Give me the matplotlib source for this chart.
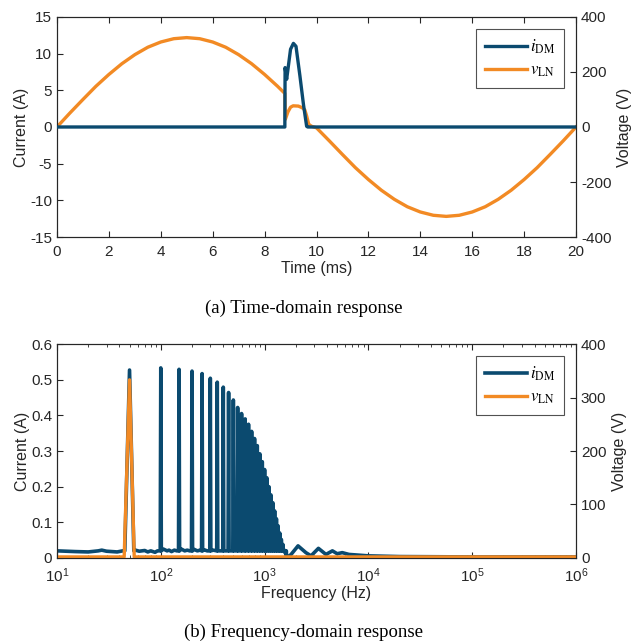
import numpy as np
import matplotlib.pyplot as plt
from matplotlib.ticker import LogLocator, NullFormatter

BLUE = "#0b4a6f"
ORANGE = "#f28a24"
AXC = "#262626"

# time-domain response
t_cur = [0.0, 8.78, 8.79, 8.85, 9.0, 9.11, 9.21, 9.36, 9.5, 9.62, 9.66, 20.0]
i_dm = [0.0, 0.0, 8.1, 6.5, 10.6, 11.4, 11.0, 7.0, 3.0, 0.1, 0.0, 0.0]

t_volt = [0.0, 0.5, 1.0, 1.5, 2.0, 2.5, 3.0, 3.5, 4.0, 4.5, 5.0, 5.5, 6.0, 6.5, 7.0,
          7.5, 8.0, 8.5, 8.78, 8.80, 8.9, 9.0, 9.1, 9.3, 9.45, 9.55, 9.62, 9.7, 9.8,
          10.0, 10.5, 11.0, 11.5, 12.0, 12.5, 13.0, 13.5, 14.0, 14.5, 15.0, 15.5,
          16.0, 16.5, 17.0, 17.5, 18.0, 18.5, 19.0, 19.5, 20.0]
v_ln = [0, 51, 100, 148, 191, 230, 263, 290, 309, 321, 325, 321, 309, 290, 263,
        230, 191, 148, 122, 28, 55, 72, 77, 76, 70, 62, 40, 10, 3,
        -3, -51, -100, -148, -191, -230, -263, -290, -309, -321, -325, -321,
        -309, -290, -263, -230, -191, -148, -100, -51, 0]

# frequency-domain response
harm_f = [50, 100, 150, 200, 250, 300, 350, 400, 450, 500, 550, 600, 650, 700,
          750, 800, 850, 900, 950, 1000, 1050, 1100, 1150, 1200, 1250, 1300,
          1350, 1400, 1450, 1500, 1550, 1600]
harm_a = [0.527, 0.533, 0.529, 0.524, 0.517, 0.504, 0.493, 0.479, 0.464, 0.443,
          0.422, 0.405, 0.39, 0.375, 0.355, 0.335, 0.315, 0.292, 0.27, 0.248,
          0.225, 0.2, 0.177, 0.155, 0.132, 0.11, 0.09, 0.07, 0.052, 0.038,
          0.022, 0.01]

floor_f = [10, 15, 20, 25, 27, 30, 38, 43, 57, 62, 70, 75, 80, 88, 93, 106, 115,
           120, 127, 135, 143, 158, 170, 180, 190, 210, 225, 240, 262, 280, 320,
           375, 425, 475, 525, 575, 625, 675, 725, 775, 825, 875, 925, 975, 1025,
           1075, 1125, 1175, 1225, 1275, 1325, 1375, 1425, 1475, 1525, 1575, 1625,
           1700, 1800, 2100, 2500, 2800, 3300, 3900, 4500, 5000, 5600, 6500, 8000,
           10000, 20000, 100000, 1000000]
floor_a = [0.02, 0.018, 0.017, 0.02, 0.022, 0.019, 0.017, 0.02, 0.022, 0.019,
           0.021, 0.017, 0.02, 0.016, 0.02, 0.025, 0.02, 0.022, 0.018, 0.022, 0.02,
           0.025, 0.02, 0.022, 0.02, 0.024, 0.02, 0.022, 0.023, 0.02, 0.022,
           0.02, 0.02, 0.02, 0.02, 0.02, 0.02, 0.02, 0.02, 0.02, 0.02, 0.02,
           0.02, 0.02, 0.02, 0.02, 0.02, 0.02, 0.02, 0.02, 0.02, 0.02, 0.02, 0.02,
           0.02, 0.015, 0.008, 0.004, 0.01, 0.034, 0.015, 0.006, 0.027, 0.01,
           0.02, 0.012, 0.015, 0.01, 0.008, 0.006, 0.004, 0.003, 0.003]

v_spec_f = [10, 44.4, 50, 55.5, 1000000]
v_spec = [2, 2, 333, 2, 2]


def spectrum_points():
    # each harmonic drawn as a narrow spike over the noise floor
    pts = list(zip(floor_f, floor_a))
    for f, a in zip(harm_f, harm_a):
        w = 5.0 if f == 50 else 0.012 * f
        pts += [(f - w, 0.02), (f, a), (f + w, 0.02)]
    pts.sort()
    return [p[0] for p in pts], [p[1] for p in pts]


def style_axes(ax, axr):
    for a in (ax, axr):
        for s in a.spines.values():
            s.set_color(AXC)
            s.set_linewidth(0.8)
    ax.tick_params(axis="both", which="both", direction="in", colors=AXC,
                   labelsize=11, top=True, right=False, length=4)
    ax.tick_params(axis="x", pad=6)
    ax.tick_params(which="minor", length=2)
    axr.tick_params(axis="y", direction="in", colors=AXC, labelsize=11, length=4)
    ax.yaxis.label.set_color(AXC)
    ax.xaxis.label.set_color(AXC)
    axr.yaxis.label.set_color(AXC)


def add_legend(ax, handles):
    leg = ax.legend(handles, [r"$i_{\rm DM}$", r"$v_{\rm LN}$"], loc="upper right",
                    fontsize=12, frameon=True, fancybox=False, handlelength=2.5,
                    borderaxespad=0.7, handletextpad=0.2, labelspacing=0.4,
                    borderpad=0.55)
    leg.get_frame().set_edgecolor(AXC)
    leg.get_frame().set_linewidth(0.8)


plt.rcParams["font.family"] = ["Liberation Sans", "DejaVu Sans"]
plt.rcParams["mathtext.fontset"] = "stix"
plt.rcParams["axes.unicode_minus"] = False

fig = plt.figure(figsize=(6.33, 6.43), dpi=100)

# (a) time domain
ax1 = fig.add_axes([0.090, 0.6314, 0.820, 0.3422])
ax1r = ax1.twinx()
l1, = ax1.plot(t_cur, i_dm, color=BLUE, lw=2.4, zorder=3)
l2, = ax1r.plot(t_volt, v_ln, color=ORANGE, lw=2.4)
ax1.set_zorder(ax1r.get_zorder() + 1)
ax1.patch.set_visible(False)
ax1.set_xlim(0, 20)
ax1.set_ylim(-15, 15)
ax1r.set_ylim(-400, 400)
ax1.set_xticks(np.arange(0, 21, 2))
ax1.set_yticks(np.arange(-15, 16, 5))
ax1r.set_yticks(np.arange(-400, 401, 200))
ax1.set_xlabel("Time (ms)", fontsize=11.5, labelpad=1)
ax1.set_ylabel("Current (A)", fontsize=11.5, labelpad=1)
ax1r.set_ylabel("Voltage (V)", fontsize=11.5, labelpad=4)
style_axes(ax1, ax1r)
add_legend(ax1, [l1, l2])

# (b) frequency domain
ax2 = fig.add_axes([0.090, 0.1322, 0.820, 0.3328])
ax2r = ax2.twinx()
sf, sa = spectrum_points()
b1, = ax2.plot(sf, sa, color=BLUE, lw=2.6)
b2, = ax2r.plot(v_spec_f, v_spec, color=ORANGE, lw=2.4)
ax2.set_xscale("log")
ax2.set_xlim(10, 1e6)
ax2.set_ylim(0, 0.6)
ax2r.set_ylim(0, 400)
ax2.set_yticks(np.arange(0, 0.61, 0.1))
ax2.set_yticklabels(["0", "0.1", "0.2", "0.3", "0.4", "0.5", "0.6"])
ax2r.set_yticks(np.arange(0, 401, 100))
ax2.xaxis.set_major_locator(LogLocator(base=10, numticks=10))
ax2.xaxis.set_minor_locator(LogLocator(base=10, subs=np.arange(2, 10), numticks=100))
ax2.xaxis.set_minor_formatter(NullFormatter())
ax2.set_xlabel("Frequency (Hz)", fontsize=11.5, labelpad=1)
ax2.set_ylabel("Current (A)", fontsize=11.5, labelpad=1)
ax2r.set_ylabel("Voltage (V)", fontsize=11.5, labelpad=4)
style_axes(ax2, ax2r)
add_legend(ax2r, [b1, b2])

fig.text(0.48, 1 - 308 / 643, "(a) Time-domain response", ha="center", va="center",
         fontsize=13.5, family="Liberation Serif")
fig.text(0.48, 1 - 632 / 643, "(b) Frequency-domain response", ha="center",
         va="center", fontsize=13.5, family="Liberation Serif")

fig.savefig("out.png", dpi=100)
